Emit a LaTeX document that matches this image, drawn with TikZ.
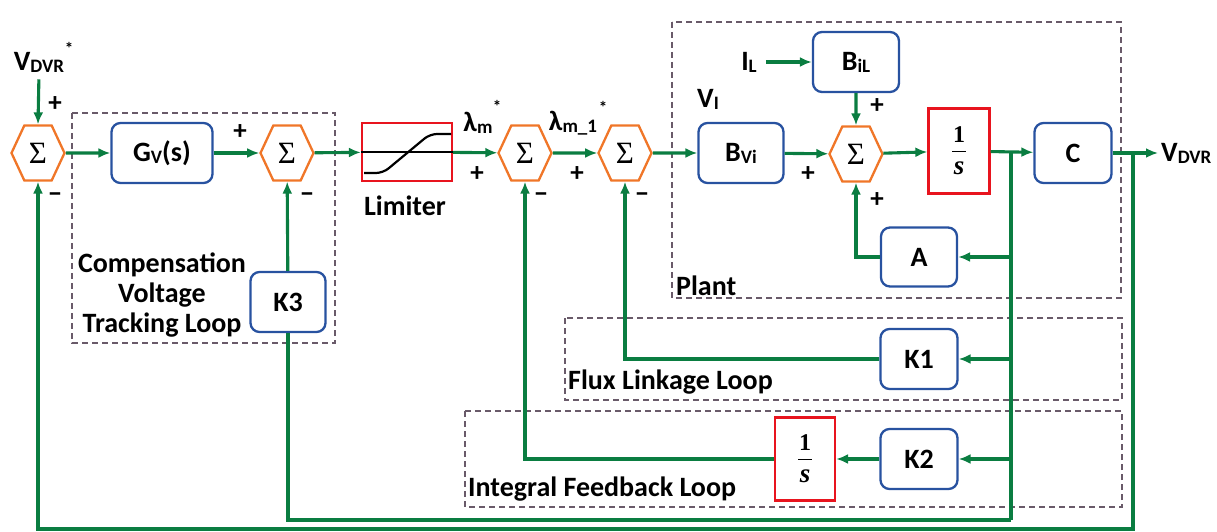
\documentclass[tikz,border=0pt]{standalone}
\usepackage{fontspec}
\setmainfont{Carlito}
\newfontfamily\serf{Liberation Serif}
\usetikzlibrary{arrows.meta,shapes.symbols}
\definecolor{lgreen}{RGB}{10,125,65}
\definecolor{bblue}{RGB}{40,82,160}
\definecolor{sorange}{RGB}{240,118,40}
\definecolor{rred}{RGB}{232,20,30}
\definecolor{dgray}{RGB}{105,90,105}
\newcommand{\lsub}[1]{\raisebox{-2pt}{\fontsize{19}{19}\selectfont #1}}
\newcommand{\sumsym}{{\serf\mdseries\fontsize{31}{31}\selectfont Σ}}
\newcommand{\onesfrac}{\vbox{\offinterlineskip
  \hbox to 18pt{\hss\serf\bfseries\fontsize{24}{24}\selectfont 1\hss}\kern8pt
  \hbox to 18pt{\hss\rule{14pt}{1.3pt}\hss}\kern10pt
  \hbox to 18pt{\hss\serf\itshape\fontsize{27}{27}\selectfont s\hss}}}
\tikzset{
  bbox/.style={draw=bblue,line width=2.3pt,rounded corners=9pt,inner sep=0pt,fill=white},
  rbox/.style={draw=rred,line width=2.3pt,inner sep=0pt,fill=white},
  sumn/.style={shape=signal,signal to=east and west,signal pointer angle=130,draw=sorange,line width=2.3pt,
    minimum width=53pt,minimum height=55pt,inner sep=0pt,fill=white},
  wire/.style={draw=lgreen,line width=3.1pt},
  arr/.style={wire,-{Latex[length=12pt,width=10pt]}},
  loopbox/.style={draw=dgray,dash pattern=on 6pt off 4pt,line width=1.3pt},
  lbl/.style={inner sep=1pt},
  star/.style={inner sep=1pt,font=\fontsize{17}{17}\selectfont\bfseries},
  sgn/.style={inner sep=0pt,font=\fontsize{27}{27}\selectfont\bfseries}
}
\begin{document}
\begin{tikzpicture}[x=1pt,y=-1pt,font=\fontsize{28}{30}\selectfont\bfseries]
\useasboundingbox (0,0) rectangle (1217,532);
% loop boxes
\draw[loopbox] (72,113) rectangle (335,343);
\draw[loopbox] (672,22) rectangle (1121,298);
\draw[loopbox] (565,318) rectangle (1122,400);
\draw[loopbox] (465,411) rectangle (1122,507);
% nodes
\node[sumn] (s1) at (38,153) {\sumsym};
\node[bbox,minimum width=101pt,minimum height=60pt] (gv) at (162,153) {G\lsub{V}(s)};
\node[sumn] (s2) at (287,153) {\sumsym};
\node[rbox,minimum width=90pt,minimum height=58pt] (lim) at (407,152) {};
\node[lbl] (limt) at (405,206) {Limiter};
\node[sumn] (s3) at (525,153) {\sumsym};
\node[sumn] (s4) at (625,153) {\sumsym};
\node[bbox,minimum width=85pt,minimum height=60pt] (bvi) at (741,153) {B\lsub{Vi}};
\node[bbox,minimum width=86pt,minimum height=60pt] (bil) at (856,62) {B\lsub{iL}};
\node[sumn] (s5) at (856,154) {\sumsym};
\node[rbox,minimum width=61pt,minimum height=85pt] (int1) at (959,151) {\onesfrac};
\node[bbox,minimum width=77pt,minimum height=60pt] (C) at (1073,153) {C};
\node[bbox,minimum width=76pt,minimum height=59pt] (A) at (919,257) {A};
\node[bbox,minimum width=77pt,minimum height=60pt] (K1) at (919,359) {K1};
\node[bbox,minimum width=77pt,minimum height=60pt] (K2) at (919,459) {K2};
\node[rbox,minimum width=60pt,minimum height=83pt] (int2) at (805,459) {\onesfrac};
\node[bbox,minimum width=75pt,minimum height=60pt] (K3) at (288,302) {K3};
% text labels
\node[lbl] (vref) at (39,62) {V\lsub{DVR}};
\node[star] (vrefs) at (69,48) {*};
\node[lbl] (lm) at (478,123) {λ\lsub{m}};
\node[star] (lms) at (497,106) {*};
\node[lbl] (lm1) at (573,123) {λ\lsub{m\_1}};
\node[star] (lm1s) at (603,107) {*};
\node[lbl] (vi) at (708,99) {V\lsub{I}};
\node[lbl] (il) at (749,62) {I\lsub{L}};
\node[lbl,anchor=west,inner sep=3pt] (vout) at (1158,153) {V\lsub{DVR}};
\node[lbl,align=center] (cvt) at (162,295) {Compensation\\Voltage\\Tracking Loop};
\node[lbl,anchor=west] (plant) at (675,286) {Plant};
\node[lbl,anchor=west] (flux) at (567,382) {Flux Linkage Loop};
\node[lbl,anchor=west] (intl) at (467,489) {Integral Feedback Loop};
% signs
\node[sgn] (p1) at (55,104) {+};
\node[sgn] (m1) at (55,198) {−};
\node[sgn] (p2) at (240,132) {+};
\node[sgn] (m2) at (307,198) {−};
\node[sgn] (p3) at (477,174) {+};
\node[sgn] (m3) at (541,198) {−};
\node[sgn] (p4) at (577,174) {+};
\node[sgn] (m4) at (642,198) {−};
\node[sgn] (p5a) at (808,174) {+};
\node[sgn] (p5b) at (877,106) {+};
\node[sgn] (p5c) at (877,200) {+};
% limiter graphic
\draw[line width=2.2pt] (lim.west) -- (lim.east);
\draw[line width=2.2pt,rounded corners=7pt] (364,173) -- (383,173) -- (430,134) -- (451,134);
% coordinates
\coordinate (br) at (1011,153);
\coordinate (brA) at (1011,257);
\coordinate (brK1) at (1011,359);
\coordinate (brK2) at (1011,459);
\coordinate (brK3) at (1011,520);
\coordinate (rv) at (1133,153);
\coordinate (rvb) at (1133,529);
% forward path
\draw[arr,shorten <=6pt] (vref.south) -- (s1.north);
\draw[arr] (s1) -- (gv);
\draw[arr] (gv) -- (s2);
\draw[arr] (s2) -- (lim);
\draw[arr] (lim) -- (s3);
\draw[arr] (s3) -- (s4);
\draw[arr] (s4) -- (bvi);
\draw[arr] (bvi) -- (s5);
\draw[arr,shorten <=8pt] (il) -- (bil);
\draw[arr] (bil) -- (s5);
\draw[arr] (s5) -- (int1);
\draw[arr] (int1) -- (C);
\draw[arr] (C) -- (vout);
% feedback
\draw[wire] (br) -- (brK3);
\draw[arr] (brA) -- (A);
\draw[arr] (A.west) -| (s5.south);
\draw[arr] (brK1) -- (K1);
\draw[arr] (K1.west) -| (s4.south);
\draw[arr] (brK2) -- (K2);
\draw[arr] (K2) -- (int2);
\draw[arr] (int2.west) -| (s3.south);
\draw[wire] (brK3) -| (K3.south);
\draw[arr] (K3) -- (s2);
\draw[arr] (rv) -- (rvb) -| (s1.south);
\end{tikzpicture}
\end{document}
